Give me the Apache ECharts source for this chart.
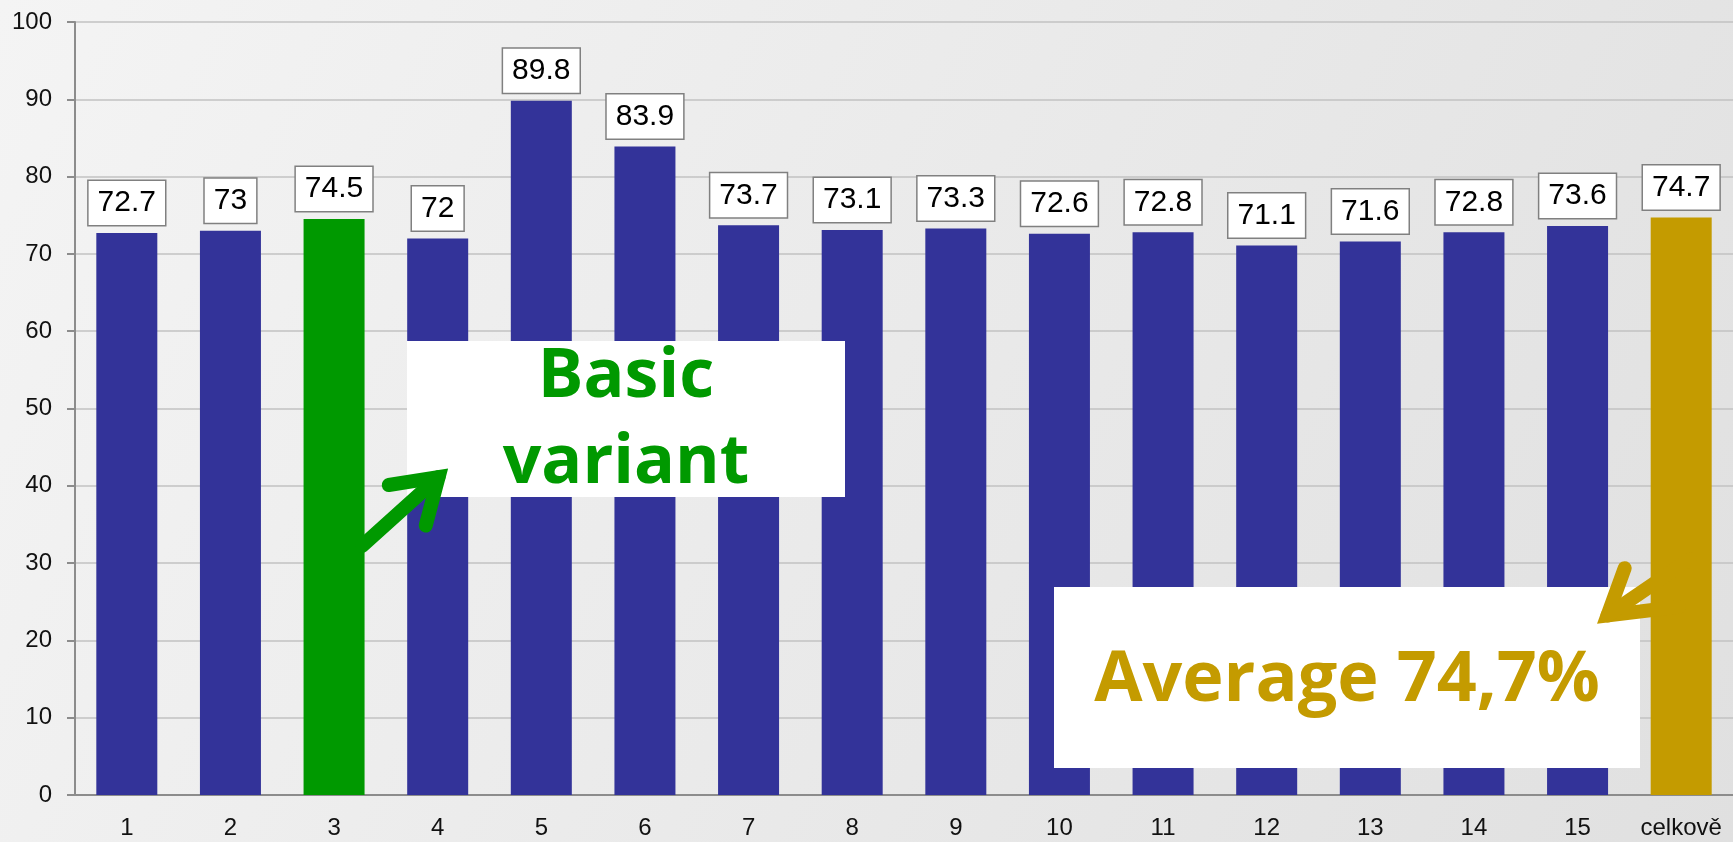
<!DOCTYPE html>
<html>
<head>
<meta charset="UTF-8">
<title>Variants</title>
<script type="text/javascript" src="https://cdn.jsdelivr.net/npm/echarts@6/dist/echarts.min.js"></script>
<style>
html, body { margin: 0; padding: 0; }
#main { width: 1733px; height: 842px; }
</style>
</head>
<body>
<div id="main"></div>
<script type="text/javascript">
// data
var categories = ['1', '2', '3', '4', '5', '6', '7', '8', '9', '10', '11', '12', '13', '14', '15', 'celkově'];
var values = [72.7, 73, 74.5, 72, 89.8, 83.9, 73.7, 73.1, 73.3, 72.6, 72.8, 71.1, 71.6, 72.8, 73.6, 74.7];
var yTicks = [0, 10, 20, 30, 40, 50, 60, 70, 80, 90, 100];
var basicIndex = 2;               // "3" = basic variant
var averageIndex = values.length - 1;

var BLUE = '#333399', GREEN = '#009900', GOLD = '#C49B00';

var myChart = echarts.init(document.getElementById('main'));

var option = {
	backgroundColor: {
		type: 'linear', x: 0, y: 0, x2: 1, y2: 1,
		colorStops: [{ offset: 0, color: '#f4f4f4' }, { offset: 1, color: '#e0e0e0' }]
	},
	animation: false,
	grid: { left: 75, right: 0, top: 22, bottom: 47 },
	xAxis: {
		type: 'category',
		data: categories,
		axisLine: { lineStyle: { color: '#8c8c8c', width: 2 } },
		axisTick: { length: 7, interval: 0, lineStyle: { color: '#8c8c8c', width: 2 } },
		axisLabel: {
			interval: 0, margin: 21, color: '#111',
			fontFamily: 'Liberation Sans', fontSize: 24
		}
	},
	yAxis: {
		type: 'value',
		min: yTicks[0],
		max: yTicks[yTicks.length - 1],
		interval: 10,
		axisLine: { show: true, lineStyle: { color: '#8c8c8c', width: 2 } },
		axisTick: { show: true, length: 8, lineStyle: { color: '#8c8c8c', width: 2 } },
		splitLine: { lineStyle: { color: '#c2c2c2', width: 1.5 } },
		axisLabel: { margin: 23, color: '#111', fontFamily: 'Liberation Sans', fontSize: 24 }
	},
	series: [{
		type: 'bar',
		data: values,
		barWidth: 61,
		itemStyle: {
			color: function (p) {
				if (p.dataIndex === basicIndex) return GREEN;
				if (p.dataIndex === averageIndex) return GOLD;
				return BLUE;
			}
		},
		label: {
			show: true,
			position: 'top',
			distance: 8,
			color: '#000',
			fontFamily: 'Liberation Sans',
			fontSize: 30,
			lineHeight: 34,
			backgroundColor: '#fff',
			borderColor: '#808080',
			borderWidth: 1.5,
			padding: [5, 9, 5, 9]
		}
	}],
	graphic: [
		// basic variant note
		{ type: 'rect', z: 100, shape: { x: 407, y: 341, width: 438, height: 156 }, style: { fill: '#fff' } },
		{ type: 'text', z: 101, x: 626, y: 378, style: { text: 'Basic', fill: GREEN, font: 'bold 68px "Open Sans"', align: 'center', verticalAlign: 'middle' } },
		{ type: 'text', z: 101, x: 626, y: 464, style: { text: 'variant', fill: GREEN, font: 'bold 68px "Open Sans"', align: 'center', verticalAlign: 'middle' } },
		{ type: 'polyline', z: 102, shape: { points: [[388.7, 485], [438.6, 477], [425.7, 525.6]] },
			style: { stroke: GREEN, lineWidth: 14, lineCap: 'round', lineJoin: 'miter', fill: null } },
		{ type: 'line', z: 102, shape: { x1: 438.6, y1: 477, x2: 362, y2: 546 },
			style: { stroke: GREEN, lineWidth: 14, lineCap: 'round' } },
		// average note
		{ type: 'rect', z: 100, shape: { x: 1054, y: 587, width: 586, height: 181 }, style: { fill: '#fff' } },
		{ type: 'text', z: 101, x: 1347, y: 681, style: { text: 'Average 74,7%', fill: GOLD, font: 'bold 70px "Open Sans"', align: 'center', verticalAlign: 'middle' } },
		{ type: 'polyline', z: 102, shape: { points: [[1624.7, 568.2], [1607.5, 615.4], [1679, 606.8]] },
			style: { stroke: GOLD, lineWidth: 14, lineCap: 'round', lineJoin: 'miter', fill: null } },
		{ type: 'line', z: 102, shape: { x1: 1607.5, y1: 615.4, x2: 1690, y2: 559 },
			style: { stroke: GOLD, lineWidth: 14, lineCap: 'round' } }
	]
};
myChart.setOption(option);
</script>
</body>
</html>
